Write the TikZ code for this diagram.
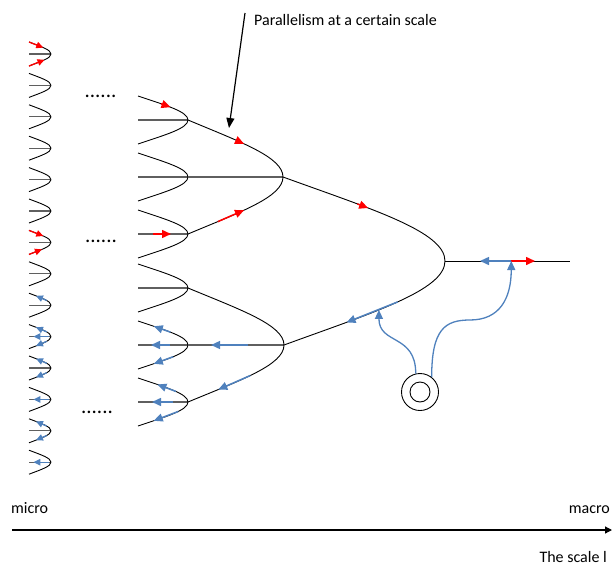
\documentclass[tikz,border=0pt]{standalone}
\usepackage{fontspec}
\setmainfont{Carlito}
\usetikzlibrary{arrows.meta,calc}
\definecolor{ablue}{RGB}{79,129,189}
\definecolor{midgray}{RGB}{95,95,95}
\newcommand\mybranch[5]{%
  \draw[brline] (#1) .. controls +({0.55*(#3)},{0.385*(#4)}) and +(0,{-0.35*(#4)}) .. (#2)
   coordinate[pos=0.05] (#5-1) coordinate[pos=0.1] (#5-2) coordinate[pos=0.15] (#5-3)
   coordinate[pos=0.2] (#5-4) coordinate[pos=0.25] (#5-5) coordinate[pos=0.3] (#5-6)
   coordinate[pos=0.35] (#5-7) coordinate[pos=0.4] (#5-8) coordinate[pos=0.45] (#5-9)
   coordinate[pos=0.5] (#5-10) coordinate[pos=0.55] (#5-11) coordinate[pos=0.6] (#5-12)
   coordinate[pos=0.65] (#5-13) coordinate[pos=0.7] (#5-14) coordinate[pos=0.75] (#5-15)
   coordinate[pos=0.8] (#5-16) coordinate[pos=0.85] (#5-17) coordinate[pos=0.9] (#5-18)
   coordinate[pos=0.95] (#5-19);}
\newcommand\myleaf[5]{%
  \coordinate (#1) at (#3,#4);
  \coordinate (#1-ts) at (#2,{#4-#5});
  \coordinate (#1-ms) at (#2,#4);
  \coordinate (#1-bs) at (#2,{#4+#5});
  \draw[midline] (#1-ms) -- (#1);
  \mybranch{#1-ts}{#1}{#3-#2}{#5}{#1t}
  \mybranch{#1-bs}{#1}{#3-#2}{-#5}{#1b}}
\begin{document}
\begin{tikzpicture}[x=1pt,y=-1pt,
  brline/.style={line width=0.9pt,black},
  midline/.style={line width=1.3pt,midgray},
  sred/.style={red,line width=1.3pt,-{Triangle[length=7pt,width=6.5pt]}},
  sblu/.style={ablue,line width=1.3pt,-{Triangle[length=7pt,width=6.5pt]}},
  bred/.style={red,line width=1.5pt,-{Triangle[length=9pt,width=8pt]}},
  bblu/.style={ablue,line width=1.5pt,-{Triangle[length=9pt,width=8pt]}},
  lbl/.style={font=\fontsize{16}{18}\selectfont,inner sep=0pt},
  dots/.style={font=\fontsize{21}{21}\selectfont,inner sep=0pt}]
\useasboundingbox (0,0) rectangle (613,565);
% small forks
\foreach \i in {1,...,14}{
  \pgfmathsetmacro\yc{54+31.4*(\i-1)}
  \myleaf{s\i}{29}{51}{\yc}{12}
}
% medium forks
\myleaf{m1}{138}{188}{120}{24}
\myleaf{m2}{138}{188}{177}{24}
\myleaf{m3}{138}{188}{234}{24}
\myleaf{m4}{138}{188}{288}{24}
\myleaf{m5}{138}{188}{345}{24}
\myleaf{m6}{138}{188}{402}{24}
% large forks
\coordinate (L1) at (283,177);
\coordinate (L2) at (284,345);
\draw[midline] (m2) -- (L1);
\draw[midline] (m5) -- (L2);
\mybranch{m1}{L1}{95}{57}{L1t}
\mybranch{m3}{L1}{95}{-57}{L1b}
\mybranch{m4}{L2}{96}{57}{L2t}
\mybranch{m6}{L2}{96}{-57}{L2b}
% huge fork
\coordinate (H) at (445,261);
\coordinate (out) at (570,261);
\mybranch{L1}{H}{162}{84}{Ht}
\mybranch{L2}{H}{161}{-84}{Hb}
\draw[brline] (H) -- (out);
\coordinate (split) at ($(H)!0.53!(out)$);
% dots
\node[dots] (d1) at (100.5,96) {......};
\node[dots] (d2) at (101,241) {......};
\node[dots] (d3) at (97,412) {......};
% small fork arrows
\draw[sred] (s1-ts) -- (s1t-9);
\draw[sred] (s1-bs) -- (s1b-10);
\draw[sred] (s7-ts) -- (s7t-9);
\draw[sred] (s7-bs) -- (s7b-8);
\draw[sblu] (s9t-12) -- (s9t-4);
\draw[sblu] (s10t-12) -- (s10t-4);
\draw[sblu] ($(s10-ms)!0.9!(s10)$) -- ($(s10-ms)!0.2!(s10)$);
\draw[sblu] (s10b-12) -- (s10b-4);
\draw[sblu] (s11t-12) -- (s11t-4);
\draw[sblu] (s11b-12) -- (s11b-4);
\draw[sblu] ($(s12-ms)!0.9!(s12)$) -- ($(s12-ms)!0.2!(s12)$);
\draw[sblu] (s13t-12) -- (s13t-4);
\draw[sblu] (s13b-12) -- (s13b-4);
\draw[sblu] ($(s14-ms)!0.9!(s14)$) -- ($(s14-ms)!0.2!(s14)$);
% medium fork arrows
\draw[bred] (m1t-6) -- (m1t-9);
\draw[bred] ($(m3-ms)!0.3!(m3)$) -- ($(m3-ms)!0.66!(m3)$);
\draw[bblu] (m5t-9) -- (m5t-4);
\draw[bblu] ($(m5-ms)!0.64!(m5)$) -- ($(m5-ms)!0.26!(m5)$);
\draw[bblu] (m5b-10) -- (m5b-4);
\draw[bblu] (m6t-11) -- (m6t-5);
\draw[bblu] ($(m6-ms)!0.7!(m6)$) -- ($(m6-ms)!0.28!(m6)$);
\draw[bblu] (m6b-12) -- (m6b-4);
% large fork arrows
\draw[bred] (L1t-7) -- (L1t-8);
\draw[bred] (L1b-4) -- (L1b-8);
\draw[bblu] ($(m5)!0.63!(L2)$) -- ($(m5)!0.24!(L2)$);
\draw[bblu] (L2b-9) -- (L2b-4);
% huge fork arrows
\draw[bred] (Ht-6) -- (Ht-7);
\draw[bblu] (Hb-10) -- (Hb-5);
\draw[bblu] (split) -- ($(H)!0.28!(out)$);
\draw[bred] (split) -- ($(H)!0.72!(out)$);
% source
\node[circle,draw,line width=0.9pt,minimum size=37pt,inner sep=0pt] (src) at (420,392) {};
\node[circle,draw,line width=0.9pt,minimum size=20pt,inner sep=0pt] (srcin) at (420,392) {};
\coordinate (bend) at (470,320);
\draw[bblu,line width=1.3pt] (src.103) .. controls +(0,-40) and +(0,35) .. (Hb-8);
\draw[bblu,line width=1.3pt] (src.52) .. controls +(0,-48) and +(-25,0) .. (bend)
   .. controls +(30,0) and +(0,37) .. (split);
% annotation
\node[lbl,anchor=base west] (ann) at (254,25) {Parallelism at a certain scale};
\coordinate (annS) at (245,13);
\coordinate (annE) at (229,128);
\draw[line width=1.2pt,-{Triangle[length=10pt,width=8pt]}] (annS) -- (annE);
% axis
\coordinate (ax0) at (12,530);
\coordinate (ax1) at (612,530);
\draw[line width=1.2pt,-{Triangle[length=7pt,width=7pt]}] (ax0) -- (ax1);
\node[lbl,anchor=base west] (micro) at (11,513) {micro};
\node[lbl,anchor=base east] (macro) at (610,513) {macro};
\node[lbl,anchor=base east] (scale) at (607,562) {The scale l};
\end{tikzpicture}
\end{document}
